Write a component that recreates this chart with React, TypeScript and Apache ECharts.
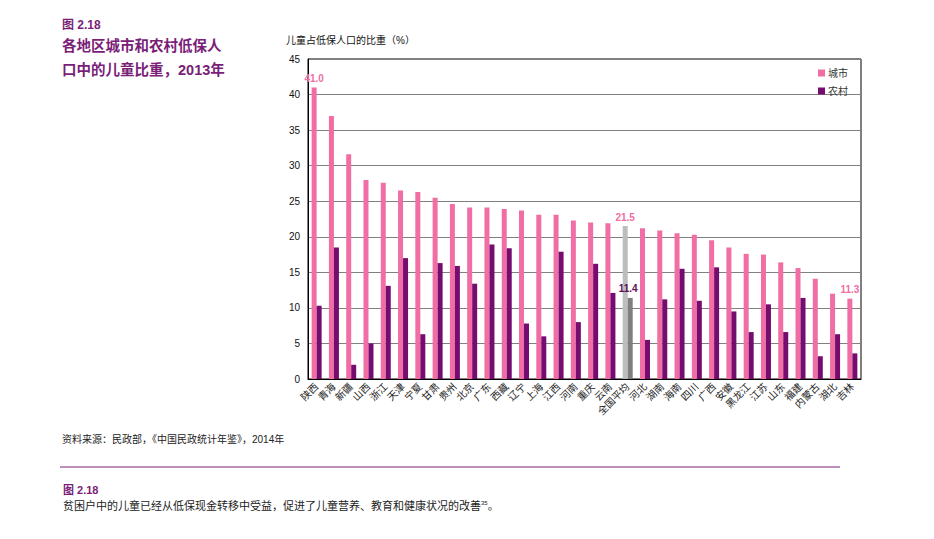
import React, { useEffect, useRef } from "react";
import * as echarts from "echarts";

const categories = ["陕西", "青海", "新疆", "山西", "浙江", "天津", "宁夏", "甘肃", "贵州", "北京", "广东", "西藏", "辽宁", "上海", "江西", "河南", "重庆", "云南", "全国平均", "河北", "湖南", "海南", "四川", "广西", "安徽", "黑龙江", "江苏", "山东", "福建", "内蒙古", "湖北", "吉林"];
const urban = [41.0, 37.0, 31.6, 28.0, 27.6, 26.5, 26.3, 25.5, 24.6, 24.1, 24.1, 23.9, 23.7, 23.1, 23.1, 22.3, 22.0, 21.9, 21.5, 21.2, 20.9, 20.5, 20.3, 19.5, 18.5, 17.6, 17.5, 16.4, 15.6, 14.1, 12.0, 11.3];
const rural = [10.3, 18.5, 2.0, 5.0, 13.1, 17.0, 6.3, 16.3, 15.9, 13.4, 18.9, 18.4, 7.8, 6.0, 17.9, 8.0, 16.2, 12.1, 11.4, 5.5, 11.2, 15.5, 11.0, 15.7, 9.5, 6.6, 10.5, 6.6, 11.4, 3.2, 6.3, 3.6];
const labelledUrban = ["陕西", "全国平均", "吉林"];
const labelledRural = ["全国平均"];
const averageName = "全国平均";
const yTicks = [0, 5, 10, 15, 20, 25, 30, 35, 40, 45];

const PINK = "#f06ea3";
const PURPLE = "#760c6f";
const TITLE = "#7a1e78";
const FONT = "'Liberation Sans', 'Noto Sans CJK SC', sans-serif";

export default function App() {
  const ref = useRef<HTMLDivElement>(null);
  useEffect(() => {
    const chart = echarts.init(ref.current!, null, { renderer: "svg" });
    const urbanData = urban.map((v, i) => {
      const name = categories[i];
      const item: any = { value: v };
      if (name === averageName) item.itemStyle = { color: "#bdbdbd" };
      if (labelledUrban.includes(name)) {
        item.label = { show: true, position: "top", formatter: (p: any) => p.value.toFixed(1), color: PINK, fontWeight: "bold", fontSize: 10, fontFamily: FONT, distance: 4 };
      }
      return item;
    });
    const ruralData = rural.map((v, i) => {
      const name = categories[i];
      const item: any = { value: v };
      if (name === averageName) item.itemStyle = { color: "#7f7f7f" };
      if (labelledRural.includes(name)) {
        item.label = { show: true, position: "top", formatter: (p: any) => p.value.toFixed(1), color: "#5e1258", fontWeight: "bold", fontSize: 10, fontFamily: FONT, distance: 4, offset: [-2, 0] };
      }
      return item;
    });
    chart.setOption({
      animation: false,
      textStyle: { fontFamily: FONT },
      grid: { left: 308, right: 73, top: 59, bottom: 160, show: true, borderColor: "#000", borderWidth: 1, containLabel: false },
      legend: {
        orient: "vertical",
        left: 813,
        top: 63,
        itemWidth: 7,
        itemHeight: 7,
        itemGap: 8,
        icon: "rect",
        textStyle: { fontSize: 10, color: "#333", fontFamily: FONT, padding: [0, 0, 0, -2] },
        data: ["城市", "农村"],
      },
      xAxis: {
        type: "category",
        data: categories,
        axisLine: { lineStyle: { color: "#000", width: 1 } },
        axisTick: { show: false },
        axisLabel: { interval: 0, rotate: 45, fontSize: 10, color: "#222", margin: 6, fontFamily: FONT },
      },
      yAxis: {
        type: "value",
        min: 0,
        max: 45,
        interval: 5,
        name: "儿童占低保人口的比重（%）",
        nameLocation: "end",
        nameGap: 14,
        nameTextStyle: { fontSize: 10, color: "#111", align: "left", padding: [0, 0, 0, -22], fontFamily: FONT },
        axisLine: { show: true, lineStyle: { color: "#000", width: 1 } },
        axisTick: { show: false },
        axisLabel: { fontSize: 10, color: "#111", margin: 8, fontFamily: FONT, formatter: (v: number) => (yTicks.includes(v) ? String(v) : "") },
        splitLine: { lineStyle: { color: "#808080", width: 1 } },
      },
      series: [
        { name: "城市", type: "bar", data: urbanData, barWidth: 5, barGap: "0%", itemStyle: { color: PINK } },
        { name: "农村", type: "bar", data: ruralData, barWidth: 5, barGap: "0%", itemStyle: { color: PURPLE } },
      ],
      graphic: [
        { type: "text", left: 62, top: 19, style: { text: "图 2.18", fill: TITLE, font: `bold 12px ${FONT}` } },
        { type: "text", left: 62, top: 39, style: { text: "各地区城市和农村低保人", fill: TITLE, font: `bold 14.5px ${FONT}` } },
        { type: "text", left: 62, top: 63, style: { text: "口中的儿童比重，2013年", fill: TITLE, font: `bold 14.5px ${FONT}` } },
        { type: "text", left: 62, top: 434, style: { text: "资料来源：民政部，《中国民政统计年鉴》，2014年", fill: "#222", font: `10px ${FONT}` } },
        { type: "line", shape: { x1: 60, y1: 467, x2: 840, y2: 467 }, style: { stroke: "#7a1e78", lineWidth: 1 } },
        { type: "text", left: 63, top: 484, style: { text: "图 2.18", fill: TITLE, font: `bold 11px ${FONT}` } },
        {
          type: "text",
          left: 63,
          top: 500,
          style: {
            text: "贫困户中的儿童已经从低保现金转移中受益，促进了儿童营养、教育和健康状况的改善{sup|35}。",
            fill: "#222",
            font: `11px ${FONT}`,
            rich: { sup: { fontSize: 6, verticalAlign: "top", padding: [0, 0, 6, 0], fill: "#222" } },
          },
        },
      ],
    });
    return () => chart.dispose();
  }, []);
  return <div ref={ref} style={{ position: "fixed", left: 0, top: 0, width: 934, height: 539, background: "#fff" }} />;
}
